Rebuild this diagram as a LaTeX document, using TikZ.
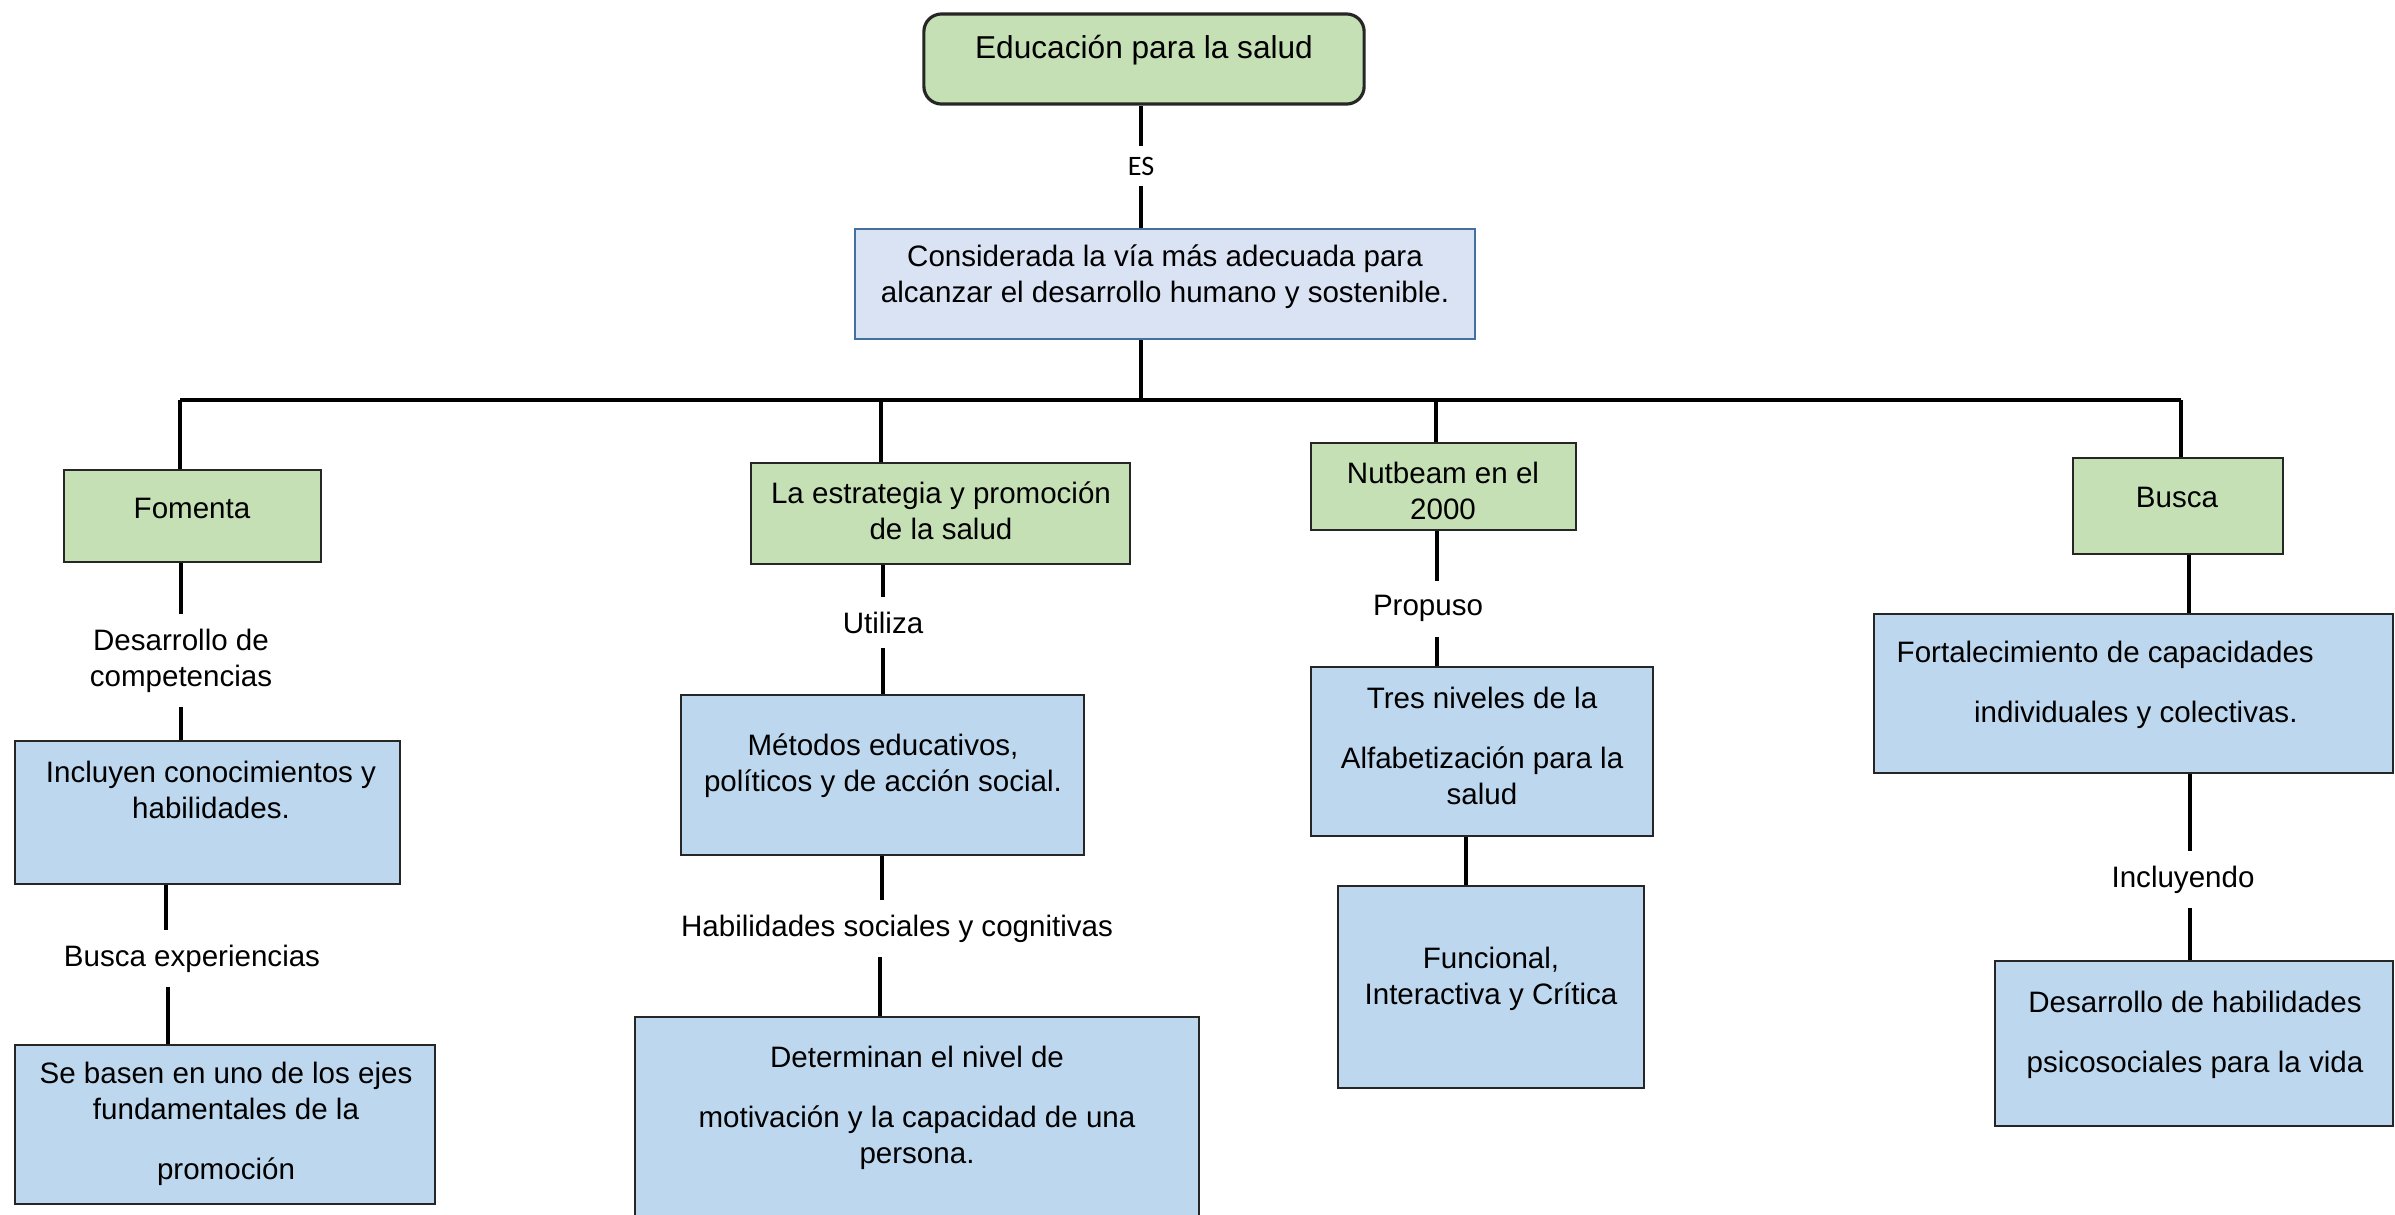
\documentclass[tikz,border=0pt]{standalone}
\usepackage{fontspec}
\setmainfont{Liberation Sans}
\newfontfamily\esfont{Carlito}
\usepackage{tikz}
\usetikzlibrary{positioning}
\usepackage{xcolor}
\definecolor{greenfill}{HTML}{C5E0B4}
\definecolor{bluefill}{HTML}{BDD7EE}
\definecolor{palefill}{HTML}{DAE3F3}
\definecolor{paleline}{HTML}{41719C}

\begin{document}
\begin{tikzpicture}[
  x=0.01cm, y=-0.01cm,
  greenbox/.style={draw=black!85, fill=greenfill, line width=0.7pt, inner sep=0pt},
  bluebox/.style={draw=black!85, fill=bluefill, line width=0.7pt, inner sep=0pt},
  palebox/.style={draw=paleline, fill=palefill, line width=0.7pt, inner sep=0pt},
  txt/.style={align=center, inner sep=0pt, yshift=-0.8pt,
    font=\fontsize{8.4}{10.25}\selectfont},
  lbl/.style={txt, fill=white, inner xsep=2pt, inner ysep=4pt},
  conn/.style={line width=1.1pt, black}
  ]
  \useasboundingbox (0,0) rectangle (2395,1214);

  % top of the map
  \node[greenbox, rounded corners=5pt, line width=0.9pt,
    minimum width=4.40cm, minimum height=0.90cm] (top) at (1144,59) {};
  \node[txt, font=\fontsize{9}{11}\selectfont] (top-t) at (1144,47) {Educación para la salud};
  \node[font=\esfont\fontsize{8}{9.6}\selectfont, inner ysep=3pt] (es) at (1141,166) {ES};
  \node[palebox, minimum width=6.20cm, minimum height=1.10cm] (mid) at (1165,284) {};
  \node[txt] (mid-t) at (1165,274)
    {Considerada la vía más adecuada para\\alcanzar el desarrollo humano y sostenible.};
  \draw[conn] (top.south -| es) -- (es);
  \draw[conn] (es) -- (es |- mid.north);

  % bus
  \coordinate (hub) at (1141,400);
  \coordinate (bus-l) at (180,400);
  \coordinate (bus-r) at (2181,400);
  \draw[conn] (hub |- mid.south) -- (hub);
  \draw[conn] (bus-l) -- (bus-r);

  % first column
  \node[greenbox, minimum width=2.57cm, minimum height=0.92cm] (fomenta) at (192.5,516) {};
  \node[txt] (fomenta-t) at (192,506) {Fomenta};
  \node[lbl] (desarrollo) at (181,658) {Desarrollo de\\competencias};
  \node[bluebox, minimum width=3.85cm, minimum height=1.43cm] (incluyen) at (207.5,812.5) {};
  \node[txt] (incluyen-t) at (211,787) {Incluyen conocimientos y\\habilidades.};
  \node[lbl] (buscaexp) at (192,956) {Busca experiencias};
  \node[bluebox, minimum width=4.20cm, minimum height=1.59cm] (sebasen) at (225,1124.5) {};
  \node[txt] (sebasen-t) at (226,1121)
    {Se basen en uno de los ejes\\fundamentales de la\\[6.6pt]promoción};
  \draw[conn] (bus-l) -- (bus-l |- fomenta.north);
  \draw[conn] (desarrollo) -- (desarrollo |- fomenta.south);
  \draw[conn] (desarrollo) -- (desarrollo |- incluyen.north);
  \draw[conn] (166,0 |- incluyen.south) -- (166,0 |- buscaexp.north);
  \draw[conn] (168,0 |- buscaexp.south) -- (168,0 |- sebasen.north);

  % second column
  \node[greenbox, minimum width=3.79cm, minimum height=1.01cm] (estrategia) at (940.5,513.5) {};
  \node[txt] (estrategia-t) at (941,508) {La estrategia y promoción\\de la salud};
  \node[lbl] (utiliza) at (883,620) {Utiliza};
  \node[bluebox, minimum width=4.03cm, minimum height=1.60cm] (metodos) at (882.5,775) {};
  \node[txt] (metodos-t) at (883,763) {Métodos educativos,\\políticos y de acción social.};
  \node[lbl] (habilidades) at (897,926) {Habilidades sociales y cognitivas};
  \node[bluebox, minimum width=5.64cm, minimum height=2.13cm] (determinan) at (917,1123.5) {};
  \node[txt] (determinan-t) at (917,1105)
    {Determinan el nivel de\\[6.6pt]motivación y la capacidad de una\\persona.};
  \draw[conn] (881,400) -- (881,400 |- estrategia.north);
  \draw[conn] (utiliza) -- (utiliza |- estrategia.south);
  \draw[conn] (utiliza) -- (utiliza |- metodos.north);
  \draw[conn] (882,0 |- metodos.south) -- (882,0 |- habilidades.north);
  \draw[conn] (880,0 |- habilidades.south) -- (880,0 |- determinan.north);

  % third column
  \node[greenbox, minimum width=2.65cm, minimum height=0.87cm] (nutbeam) at (1443.5,486.5) {};
  \node[txt] (nutbeam-t) at (1443,488) {Nutbeam en el\\2000};
  \node[lbl] (propuso) at (1428,606) {Propuso};
  \node[bluebox, minimum width=3.42cm, minimum height=1.69cm] (tres) at (1482,751.5) {};
  \node[txt] (tres-t) at (1482,743)
    {Tres niveles de la\\[6.6pt]Alfabetización para la\\salud};
  \node[bluebox, minimum width=3.06cm, minimum height=2.02cm] (funcional) at (1491,987) {};
  \node[txt] (funcional-t) at (1491,976) {Funcional,\\Interactiva y Crítica};
  \draw[conn] (1436,400) -- (1436,400 |- nutbeam.north);
  \draw[conn] (1437,0 |- nutbeam.south) -- (1437,0 |- propuso.north);
  \draw[conn] (1437,0 |- propuso.south) -- (1437,0 |- tres.north);
  \draw[conn] (1466,0 |- tres.south) -- (1466,0 |- funcional.north);

  % fourth column
  \node[greenbox, minimum width=2.10cm, minimum height=0.96cm] (busca) at (2178,506) {};
  \node[txt] (busca-t) at (2177,495) {Busca};
  \node[bluebox, minimum width=5.19cm, minimum height=1.59cm] (fortal) at (2133.5,693.5) {};
  \node[txt, align=left, anchor=west] (fortal-t) at (1896,682)
    {Fortalecimiento de capacidades\\[6.6pt]\hspace*{22pt}individuales y colectivas.};
  \node[lbl] (incluyendo) at (2183,877) {Incluyendo};
  \node[bluebox, minimum width=3.98cm, minimum height=1.65cm] (deshab) at (2194,1043.5) {};
  \node[txt] (deshab-t) at (2195,1032)
    {Desarrollo de habilidades\\[6.6pt]psicosociales para la vida};
  \draw[conn] (bus-r) -- (bus-r |- busca.north);
  \draw[conn] (2189,0 |- busca.south) -- (2189,0 |- fortal.north);
  \draw[conn] (2190,0 |- fortal.south) -- (2190,0 |- incluyendo.north);
  \draw[conn] (2190,0 |- incluyendo.south) -- (2190,0 |- deshab.north);
\end{tikzpicture}
\end{document}
